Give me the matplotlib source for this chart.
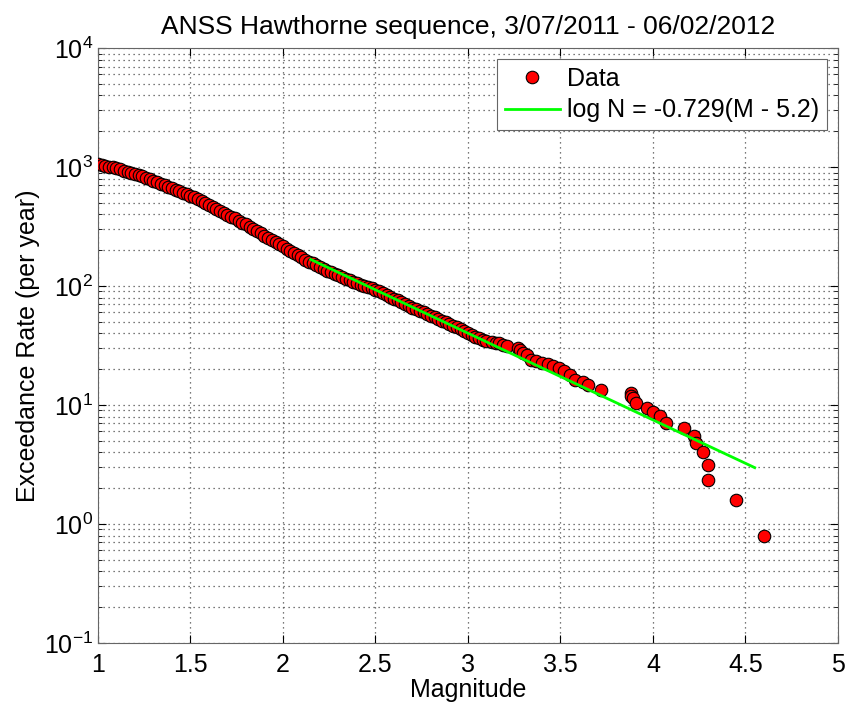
import matplotlib.pyplot as plt
from matplotlib.ticker import LogLocator
import numpy as np

plt.rcParams['font.family'] = ['Liberation Sans', 'DejaVu Sans']

# dense part of the catalogue, read every 0.02 magnitude units
mag_dense = np.round(np.arange(1.00, 3.101, 0.02), 2)
rate_dense = [1060, 1045, 1030, 1010, 995, 975, 955, 935, 915, 895,
              875, 855, 835, 810, 790, 765, 745, 725, 705, 685,
              665, 645, 625, 610, 590, 575, 555, 535, 515, 500,
              480, 460, 443, 425, 410, 395, 383, 370, 355, 342,
              330, 315, 302, 290, 278, 265, 253, 243, 233, 224,
              215, 206, 198, 190, 182, 174, 166, 160, 155, 150,
              145, 140, 135, 131, 127, 123, 119, 115, 112, 109,
              106, 103, 100, 98, 96, 93, 90, 87, 84, 81,
              78, 76, 73.5, 71, 68.5, 66, 64, 62, 60, 58,
              56.5, 55, 53, 51, 49.5, 48, 46.5, 45, 43.5, 42,
              40.5, 39, 37.5, 36.5, 35.5, 34.5]

# sparse tail
mag_tail = [3.13, 3.15, 3.17, 3.19, 3.21, 3.27, 3.28, 3.30, 3.32, 3.34,
            3.37, 3.40, 3.43, 3.46, 3.49, 3.52, 3.55, 3.58, 3.62, 3.65,
            3.72, 3.88, 3.88, 3.89, 3.91, 3.97, 4.00, 4.04, 4.07, 4.17,
            4.22, 4.23, 4.27, 4.30, 4.30, 4.45, 4.60]
rate_tail = [34, 33.5, 33, 32, 31.5, 30.4, 29, 27.6, 26.5, 24,
             23.5, 22.7, 22.2, 21.4, 20.5, 19.5, 18, 16.3, 15.5, 14.8,
             13.4, 12.6, 11.8, 11.4, 10.4, 9.4, 8.8, 8.1, 7.0, 6.4,
             5.46, 4.76, 4.0, 3.16, 2.36, 1.6, 0.79]

x_ticks = [1, 1.5, 2, 2.5, 3, 3.5, 4, 4.5, 5]
x_ticklabels = ['1', '1.5', '2', '2.5', '3', '3.5', '4', '4.5', '5']

# Gutenberg-Richter fit
b_value = 0.729
m_max = 5.2
fit_range = [2.15, 4.55]

mags = np.concatenate([mag_dense, mag_tail])
rates = np.concatenate([rate_dense, rate_tail])

fig = plt.figure(figsize=(8.49, 7.07), dpi=100)
ax = fig.add_axes([0.1154, 0.0905, 0.8716, 0.8415])

ax.semilogy(mags, rates, 'o', color='red', markeredgecolor='black',
            markeredgewidth=0.8, markersize=9, label='Data', zorder=3)
m_fit = np.array(fit_range)
ax.semilogy(m_fit, 10 ** (-b_value * (m_fit - m_max)), '-', color=(0, 1, 0),
            linewidth=2, label='log N = -0.729(M - 5.2)', zorder=4)

ax.set_xlim(1, 5)
ax.set_ylim(1e-1, 1e4)
ax.set_xticks(x_ticks)
ax.set_xticklabels(x_ticklabels)
ax.yaxis.set_major_locator(LogLocator(base=10, numticks=10))
ax.yaxis.set_minor_locator(LogLocator(base=10, subs=np.arange(2, 10), numticks=20))

dots = (0, (1, 3))
ax.grid(True, which='major', linestyle=dots, color='0.3', linewidth=0.9)
ax.grid(True, which='minor', axis='y', linestyle=dots, color='0.3', linewidth=0.9)
ax.tick_params(which='both', direction='in', top=True, right=True, labelsize=18)
ax.tick_params(which='major', length=6)
ax.tick_params(which='minor', length=3)
ax.tick_params(axis='x', pad=7)
for s in ax.spines.values():
    s.set_color('0.4')

ax.set_xlabel('Magnitude', fontsize=18, labelpad=1)
ax.set_ylabel('Exceedance Rate (per year)', fontsize=18, labelpad=3)
ax.set_title('ANSS Hawthorne sequence, 3/07/2011 - 06/02/2012', fontsize=19, pad=10)

leg = ax.legend(loc='upper right', fontsize=18, fancybox=False, framealpha=1,
                edgecolor='0.4', borderaxespad=0.45, handlelength=2.2,
                handletextpad=0.3, borderpad=0.3, labelspacing=0.3)
leg.get_frame().set_linewidth(0.8)

fig.savefig('out.png', dpi=100)
